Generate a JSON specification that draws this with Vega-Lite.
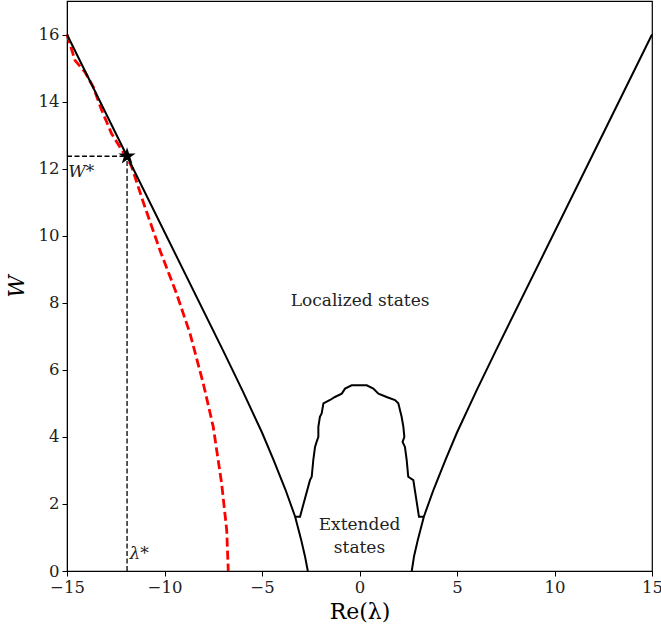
{
  "$schema": "https://vega.github.io/schema/vega-lite/v6.json",
  "width": 585,
  "height": 570,
  "autosize": {"type": "none"},
  "padding": {"top": 1, "left": 67, "right": 9, "bottom": 60},
  "background": "white",
  "config": {
    "view": {"stroke": "black", "strokeWidth": 1.2},
    "font": "DejaVu Serif",
    "axis": {
      "grid": false,
      "domainColor": "black",
      "tickColor": "black",
      "tickSize": 5,
      "labelFlush": false,
      "labelOverlap": false,
      "labelFont": "DejaVu Serif",
      "labelFontSize": 16.5,
      "labelColor": "#222222",
      "titleFont": "DejaVu Serif",
      "titleFontWeight": "normal",
      "titleFontSize": 22,
      "titleColor": "black",
      "labelPadding": 3
    }
  },
  "datasets": {
    "black": [
      {"s": "L", "i": 1, "x": -15, "y": 16},
      {"s": "L", "i": 2, "x": -11.92, "y": 12.37},
      {"s": "L", "i": 3, "x": -7.0, "y": 6.58},
      {"s": "L", "i": 4, "x": -6.0, "y": 5.38},
      {"s": "L", "i": 5, "x": -5.0, "y": 4.13},
      {"s": "L", "i": 6, "x": -4.42, "y": 3.33},
      {"s": "L", "i": 7, "x": -3.8, "y": 2.43},
      {"s": "L", "i": 8, "x": -3.3, "y": 1.62},
      {"s": "L", "i": 9, "x": -3.0, "y": 0.95},
      {"s": "L", "i": 10, "x": -2.8, "y": 0.45},
      {"s": "L", "i": 11, "x": -2.65, "y": 0},
      {"s": "R", "i": 1, "x": 15, "y": 16},
      {"s": "R", "i": 2, "x": 11.92, "y": 12.37},
      {"s": "R", "i": 3, "x": 7.0, "y": 6.58},
      {"s": "R", "i": 4, "x": 6.0, "y": 5.38},
      {"s": "R", "i": 5, "x": 5.0, "y": 4.13},
      {"s": "R", "i": 6, "x": 4.42, "y": 3.33},
      {"s": "R", "i": 7, "x": 3.8, "y": 2.43},
      {"s": "R", "i": 8, "x": 3.3, "y": 1.62},
      {"s": "R", "i": 9, "x": 3.0, "y": 0.95},
      {"s": "R", "i": 10, "x": 2.8, "y": 0.45},
      {"s": "R", "i": 11, "x": 2.68, "y": 0},
      {"s": "I", "i": 1, "x": -3.3, "y": 1.62},
      {"s": "I", "i": 2, "x": -3.05, "y": 1.62},
      {"s": "I", "i": 3, "x": -2.54, "y": 2.71},
      {"s": "I", "i": 4, "x": -2.45, "y": 2.81},
      {"s": "I", "i": 5, "x": -2.37, "y": 3.31},
      {"s": "I", "i": 6, "x": -2.28, "y": 3.7},
      {"s": "I", "i": 7, "x": -2.2, "y": 3.85},
      {"s": "I", "i": 8, "x": -2.11, "y": 4.0},
      {"s": "I", "i": 9, "x": -2.11, "y": 4.3},
      {"s": "I", "i": 10, "x": -2.03, "y": 4.6},
      {"s": "I", "i": 11, "x": -1.94, "y": 4.7},
      {"s": "I", "i": 12, "x": -1.85, "y": 5.0},
      {"s": "I", "i": 13, "x": -1.51, "y": 5.1},
      {"s": "I", "i": 14, "x": -1.26, "y": 5.19},
      {"s": "I", "i": 15, "x": -0.91, "y": 5.29},
      {"s": "I", "i": 16, "x": -0.74, "y": 5.44},
      {"s": "I", "i": 17, "x": -0.4, "y": 5.54},
      {"s": "I", "i": 18, "x": 0.37, "y": 5.54},
      {"s": "I", "i": 19, "x": 0.71, "y": 5.44},
      {"s": "I", "i": 20, "x": 0.97, "y": 5.29},
      {"s": "I", "i": 21, "x": 1.39, "y": 5.19},
      {"s": "I", "i": 22, "x": 1.82, "y": 5.1},
      {"s": "I", "i": 23, "x": 1.99, "y": 5.0},
      {"s": "I", "i": 24, "x": 2.16, "y": 4.6},
      {"s": "I", "i": 25, "x": 2.25, "y": 4.3},
      {"s": "I", "i": 26, "x": 2.3, "y": 4.0},
      {"s": "I", "i": 27, "x": 2.21, "y": 3.85},
      {"s": "I", "i": 28, "x": 2.33, "y": 3.7},
      {"s": "I", "i": 29, "x": 2.42, "y": 3.31},
      {"s": "I", "i": 30, "x": 2.5, "y": 2.81},
      {"s": "I", "i": 31, "x": 2.76, "y": 2.71},
      {"s": "I", "i": 32, "x": 3.05, "y": 1.62},
      {"s": "I", "i": 33, "x": 3.3, "y": 1.62}
    ],
    "red": [
      {"i": 1, "x": -15.0, "y": 16.0},
      {"i": 2, "x": -14.59, "y": 15.23},
      {"i": 3, "x": -14.08, "y": 14.88},
      {"i": 4, "x": -13.65, "y": 14.43},
      {"i": 5, "x": -13.22, "y": 13.74},
      {"i": 6, "x": -12.71, "y": 13.04},
      {"i": 7, "x": -12.28, "y": 12.64},
      {"i": 8, "x": -11.9, "y": 12.3},
      {"i": 9, "x": -11.68, "y": 12.05},
      {"i": 10, "x": -11.09, "y": 11.0},
      {"i": 11, "x": -10.23, "y": 9.56},
      {"i": 12, "x": -9.38, "y": 8.27},
      {"i": 13, "x": -8.69, "y": 7.08},
      {"i": 14, "x": -8.01, "y": 5.59},
      {"i": 15, "x": -7.5, "y": 4.3},
      {"i": 16, "x": -7.07, "y": 2.61},
      {"i": 17, "x": -6.81, "y": 1.22},
      {"i": 18, "x": -6.73, "y": 0}
    ],
    "guides": [
      {"x": -15, "x2": -11.92, "y": 12.37, "y2": 12.37},
      {"x": -11.92, "x2": -11.92, "y": 0, "y2": 12.37}
    ],
    "star": [{"x": -11.92, "y": 12.37}],
    "labels": [
      {"t": "Localized states", "x": 0.03, "y": 8.05},
      {"t": "Extended", "x": 0.0, "y": 1.37},
      {"t": "states", "x": 0.0, "y": 0.69}
    ],
    "marks": [
      {"t": "W*", "x": -14.93, "y": 11.9},
      {"t": "λ*", "x": -11.8, "y": 0.5}
    ]
  },
  "layer": [
    {
      "data": {"name": "guides"},
      "mark": {"type": "rule", "color": "black", "strokeWidth": 1.3, "strokeDash": [5, 2.5]},
      "encoding": {
        "x": {"field": "x", "type": "quantitative", "scale": {"domain": [-15, 15], "nice": false, "zero": false}, "axis": {"values": [-15, -10, -5, 0, 5, 10, 15], "title": "Re(λ)", "titlePadding": 6}},
        "x2": {"field": "x2"},
        "y": {"field": "y", "type": "quantitative", "scale": {"domain": [0, 17], "nice": false, "zero": false}, "axis": {"values": [0, 2, 4, 6, 8, 10, 12, 14, 16], "title": "W", "titleFontStyle": "italic", "titlePadding": 10}},
        "y2": {"field": "y2"}
      }
    },
    {
      "data": {"name": "red"},
      "mark": {"type": "line", "color": "#ff0000", "strokeWidth": 2.8, "strokeDash": [9, 4]},
      "encoding": {
        "x": {"field": "x", "type": "quantitative"},
        "y": {"field": "y", "type": "quantitative"},
        "order": {"field": "i"}
      }
    },
    {
      "data": {"name": "black"},
      "mark": {"type": "line", "color": "black", "strokeWidth": 2},
      "encoding": {
        "x": {"field": "x", "type": "quantitative"},
        "y": {"field": "y", "type": "quantitative"},
        "detail": {"field": "s"},
        "order": {"field": "i"}
      }
    },
    {
      "data": {"name": "star"},
      "mark": {"type": "point", "filled": true, "color": "black", "opacity": 1, "size": 330, "shape": "M0,-1L0.2245,-0.309L0.951,-0.309L0.363,0.118L0.588,0.809L0,0.382L-0.588,0.809L-0.363,0.118L-0.951,-0.309L-0.2245,-0.309Z"},
      "encoding": {
        "x": {"field": "x", "type": "quantitative"},
        "y": {"field": "y", "type": "quantitative"}
      }
    },
    {
      "data": {"name": "labels"},
      "mark": {"type": "text", "fontSize": 17, "color": "#222222", "align": "center", "baseline": "middle", "font": "DejaVu Serif"},
      "encoding": {
        "x": {"field": "x", "type": "quantitative"},
        "y": {"field": "y", "type": "quantitative"},
        "text": {"field": "t"}
      }
    },
    {
      "data": {"name": "marks"},
      "mark": {"type": "text", "fontSize": 17, "fontStyle": "italic", "color": "#222222", "align": "left", "baseline": "middle", "font": "DejaVu Serif"},
      "encoding": {
        "x": {"field": "x", "type": "quantitative"},
        "y": {"field": "y", "type": "quantitative"},
        "text": {"field": "t"}
      }
    }
  ]
}
